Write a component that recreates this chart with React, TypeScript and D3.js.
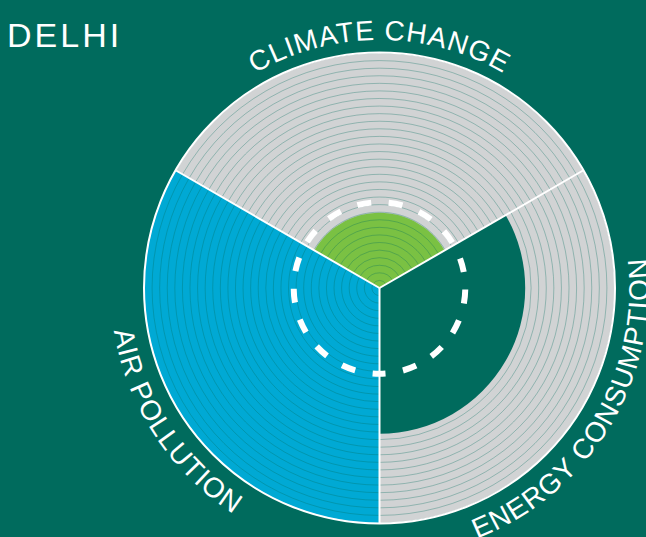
import React from 'react';
import * as d3 from 'd3';

const W = 646;
const H = 537;

const cityName = 'DELHI';
const categories = ['CLIMATE CHANGE', 'ENERGY CONSUMPTION', 'AIR POLLUTION'];
const values = [32, 62, 100];
const fills = ['#7ac143', '#006b5d', '#00a9d4'];
const showRingsOnValue = [true, false, true];
const labelShift = [0, -0.6, 1.8];
const targetValue = 36.5;
const ringCount = 31;
const maxValue = 100;

const BG = '#006b5d';
const GREY = '#d1d3d4';

const cx = 379.5;
const cy = 288;
const outerR = 235;

// point on circle, d3 angle convention (0 = 12 o'clock, clockwise)
const pt = (r: number, a: number) => [cx + r * Math.sin(a), cy - r * Math.cos(a)];

const arcPath = (r: number, a0: number, a1: number) => {
  const [x0, y0] = pt(r, a0);
  const [x1, y1] = pt(r, a1);
  const large = Math.abs(a1 - a0) > Math.PI ? 1 : 0;
  const sweep = a1 > a0 ? 1 : 0;
  return `M${x0},${y0} A${r},${r} 0 ${large} ${sweep} ${x1},${y1}`;
};

export default function App() {
  const rScale = d3.scaleLinear().domain([0, maxValue]).range([0, outerR]);
  const step = Math.PI * 2 / categories.length;
  const sectors = categories.map((c, i) => {
    const a0 = -Math.PI / 3 + i * step;
    return { name: c, value: values[i], fill: fills[i], rings: showRingsOnValue[i], a0, a1: a0 + step, mid: a0 + step / 2 };
  });

  const arc = d3.arc<any>();
  const ringStep = outerR / ringCount;
  const rings = d3.range(1, ringCount).map(k => k * ringStep);

  const targetR = rScale(targetValue);
  const circ = 2 * Math.PI * targetR;
  const nDash = 17;
  const period = circ / nDash;
  const dash = 14;
  // dashed target circle starting at the bottom point
  const [bx, by] = pt(targetR, Math.PI);
  const [tx, ty] = pt(targetR, 0);
  const targetPath = `M${bx},${by} A${targetR},${targetR} 0 1 1 ${tx},${ty} A${targetR},${targetR} 0 1 1 ${bx},${by}`;

  const font = "'Liberation Sans', Arial, sans-serif";

  return (
    <svg width={W} height={H} style={{ position: 'absolute', left: 0, top: 0, background: BG }}>
      <rect width={W} height={H} fill={BG} />
      <text x={7} y={47} fill="#fff" fontFamily={font} fontSize={34} letterSpacing={3}>{cityName}</text>

      {/* grey background sectors */}
      {sectors.map((s, i) => (
        <path key={'bg' + i} transform={`translate(${cx},${cy})`}
          d={arc({ innerRadius: 0, outerRadius: outerR, startAngle: s.a0, endAngle: s.a1}) || ''} fill={GREY} />
      ))}
      {/* value fills */}
      {sectors.map((s, i) => (
        <path key={'v' + i} transform={`translate(${cx},${cy})`}
          d={arc({ innerRadius: 0, outerRadius: rScale(s.value), startAngle: s.a0, endAngle: s.a1 }) || ''} fill={s.fill} />
      ))}
      {/* concentric ring lines */}
      {sectors.map((s, i) => rings
        .filter(r => s.rings || r > rScale(s.value) + 0.5)
        .map((r, k) => (
          <path key={'r' + i + '-' + k} d={arcPath(r, s.a0, s.a1)} fill="none"
            stroke={BG} strokeOpacity={0.45} strokeWidth={0.7} />
        )))}
      {/* outer border */}
      <circle cx={cx} cy={cy} r={outerR + 0.5} fill="none" stroke="#fff" strokeWidth={2} />
      {/* sector dividers */}
      {sectors.map((s, i) => {
        const [x, y] = pt(outerR, s.a0);
        return <line key={'d' + i} x1={cx} y1={cy} x2={x} y2={y} stroke="#fff" strokeWidth={2} />;
      })}
      {/* target */}
      <path d={targetPath} fill="none" stroke="#fff" strokeWidth={6}
        strokeDasharray={`${dash} ${period - dash}`} strokeDashoffset={dash / 2} />

      {/* curved labels */}
      <defs>
        {sectors.map((s, i) => {
          const top = Math.cos(s.mid) > 0;
          const r = top ? 248 : 269;
          const d = top
            ? arcPath(r, s.mid - Math.PI / 2, s.mid + Math.PI / 2)
            : arcPath(r, s.mid + Math.PI / 2, s.mid - Math.PI / 2);
          return <path key={'lp' + i} id={'lp' + i} d={d} />;
        })}
      </defs>
      {sectors.map((s, i) => (
        <text key={'l' + i} fill="#fff" fontFamily={font} fontSize={28} letterSpacing={1}>
          <textPath href={'#lp' + i} startOffset={`${50 + labelShift[i]}%`} textAnchor="middle">{s.name}</textPath>
        </text>
      ))}
    </svg>
  );
}
